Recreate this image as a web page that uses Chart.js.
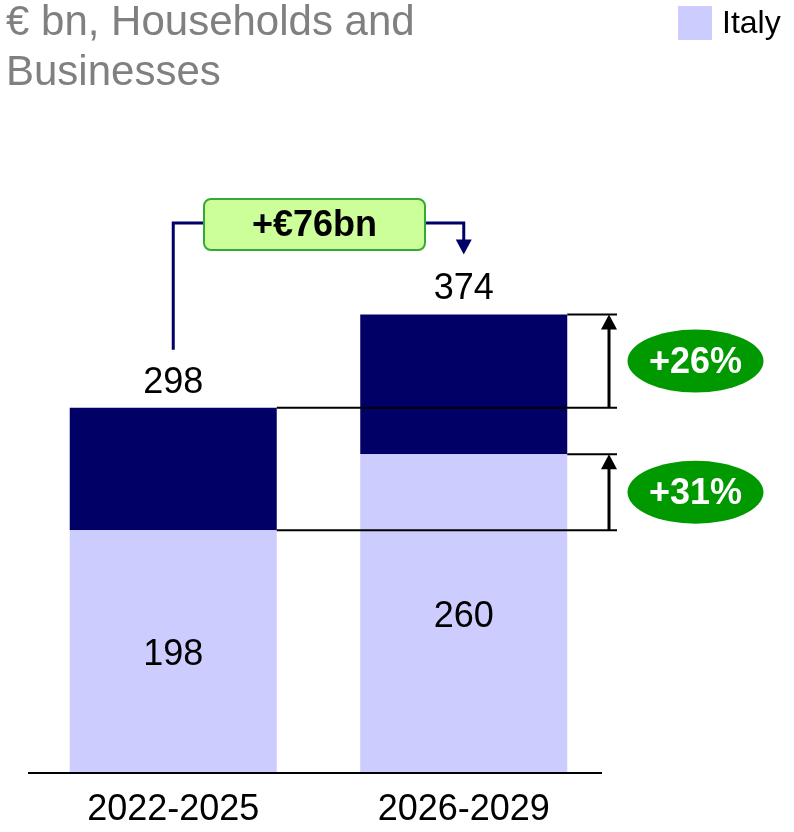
<!DOCTYPE html>
<html>
<head>
<meta charset="utf-8">
<script src="https://cdn.jsdelivr.net/npm/chart.js@4"></script>
<style>
    body { margin: 0; background: #fff; }
</style>
</head>
<body>
<canvas id="chart" width="794" height="832"></canvas>
<script>
const categories = ['2022-2025', '2026-2029'];
const italyValues = [198, 260];
const otherValues = [100, 114];
const totalValues = [298, 374];
const growthLabels = ['+26%', '+31%'];
const deltaLabel = '+€76bn';
const titleLines = ['€ bn, Households and', 'Businesses'];

const FONT = "'Liberation Sans', Arial, sans-serif";
const LIGHT = '#ccccff';
const DARK = '#000066';

function arrowUp(ctx, x, yFrom, yTo, color) {
    ctx.strokeStyle = color;
    ctx.fillStyle = color;
    ctx.lineWidth = 3;
    ctx.beginPath();
    ctx.moveTo(x, yFrom);
    ctx.lineTo(x, yTo + 12);
    ctx.stroke();
    ctx.beginPath();
    ctx.moveTo(x, yTo);
    ctx.lineTo(x - 8, yTo + 15);
    ctx.lineTo(x + 8, yTo + 15);
    ctx.closePath();
    ctx.fill();
}

function hline(ctx, x1, x2, y) {
    ctx.strokeStyle = '#000';
    ctx.lineWidth = 2;
    ctx.beginPath();
    ctx.moveTo(x1, y);
    ctx.lineTo(x2, y);
    ctx.stroke();
}

const annotate = {
    id: 'annotate',
    afterDatasetsDraw(chart) {
        const ctx = chart.ctx;
        const y = chart.scales.y;
        const bars = chart.getDatasetMeta(0).data;
        const base = y.getPixelForValue(0);

        ctx.save();

        // baseline
        hline(ctx, 28, 602, base);

        // title
        ctx.fillStyle = '#808080';
        ctx.font = '42px ' + FONT;
        ctx.textAlign = 'left';
        ctx.textBaseline = 'alphabetic';
        titleLines.forEach((line, i) => ctx.fillText(line, 6, 35 + i * 50));

        // legend
        ctx.fillStyle = chart.data.datasets[0].backgroundColor;
        ctx.fillRect(678, 6, 34, 34);
        ctx.fillStyle = '#000';
        ctx.font = '32px ' + FONT;
        ctx.textBaseline = 'middle';
        ctx.fillText(chart.data.datasets[0].label, 722, 24);

        // category labels
        ctx.textAlign = 'center';
        ctx.font = '36px ' + FONT;
        bars.forEach((b, i) => ctx.fillText(categories[i], b.x, 810));

        // value labels
        bars.forEach((b, i) => {
            const yi = y.getPixelForValue(italyValues[i]);
            ctx.fillText(String(italyValues[i]), b.x, (yi + base) / 2 + 3);
            ctx.fillText(String(totalValues[i]), b.x, y.getPixelForValue(totalValues[i]) - 25);
        });

        // connector lines and growth arrows
        const right1 = bars[0].x + bars[0].width / 2;
        const right2 = bars[1].x + bars[1].width / 2;
        const yT0 = y.getPixelForValue(totalValues[0]);
        const yT1 = y.getPixelForValue(totalValues[1]);
        const yI0 = y.getPixelForValue(italyValues[0]);
        const yI1 = y.getPixelForValue(italyValues[1]);
        hline(ctx, right1, 617, yT0);
        hline(ctx, right1, 617, yI0);
        hline(ctx, right2, 617, yT1);
        hline(ctx, right2, 617, yI1);
        arrowUp(ctx, 609, yT0, yT1, '#000');
        arrowUp(ctx, 609, yI0, yI1, '#000');

        // growth ellipses
        [[yT0, yT1], [yI0, yI1]].forEach((pair, i) => {
            const cy = (pair[0] + pair[1]) / 2;
            ctx.fillStyle = '#009900';
            ctx.beginPath();
            ctx.ellipse(695.5, cy, 68, 31.5, 0, 0, Math.PI * 2);
            ctx.fill();
            ctx.fillStyle = '#fff';
            ctx.font = 'bold 36px ' + FONT;
            ctx.textBaseline = 'middle';
            ctx.fillText(growthLabels[i], 695.5, cy + 2);
        });

        // delta bracket
        const bx1 = bars[0].x;
        const bx2 = bars[1].x;
        const topY = 223;
        ctx.strokeStyle = DARK;
        ctx.lineWidth = 3;
        ctx.beginPath();
        ctx.moveTo(bx1, yT0 - 58);
        ctx.lineTo(bx1, topY);
        ctx.lineTo(bx2, topY);
        ctx.lineTo(bx2, yT1 - 72);
        ctx.stroke();
        ctx.fillStyle = DARK;
        ctx.beginPath();
        ctx.moveTo(bx2, yT1 - 60);
        ctx.lineTo(bx2 - 8, yT1 - 75);
        ctx.lineTo(bx2 + 8, yT1 - 75);
        ctx.closePath();
        ctx.fill();

        // delta box
        const bxL = 204, bxW = 221, byT = 199, byH = 51;
        ctx.fillStyle = '#ccff99';
        ctx.strokeStyle = '#33aa33';
        ctx.lineWidth = 2;
        ctx.beginPath();
        ctx.roundRect(bxL, byT, bxW, byH, 7);
        ctx.fill();
        ctx.stroke();
        ctx.fillStyle = '#000';
        ctx.font = 'bold 36px ' + FONT;
        ctx.fillText(deltaLabel, bxL + bxW / 2, byT + byH / 2 + 2);

        ctx.restore();
    }
};

new Chart(document.getElementById('chart'), {
    type: 'bar',
    data: {
        labels: categories,
        datasets: [
            {
                label: 'Italy',
                data: italyValues,
                backgroundColor: LIGHT,
                borderWidth: 0
            },
            {
                label: 'Other',
                data: otherValues,
                backgroundColor: DARK,
                borderWidth: 0
            }
        ]
    },
    options: {
        responsive: false,
        animation: false,
        layout: {
            padding: { left: 28, right: 185, top: 160, bottom: 59 }
        },
        datasets: {
            bar: { barPercentage: 0.7126, categoryPercentage: 1 }
        },
        plugins: {
            legend: { display: false },
            tooltip: { enabled: false }
        },
        scales: {
            x: { stacked: true, display: false },
            y: { stacked: true, display: false, min: 0, max: 500 }
        }
    },
    plugins: [annotate]
});
</script>
</body>
</html>
